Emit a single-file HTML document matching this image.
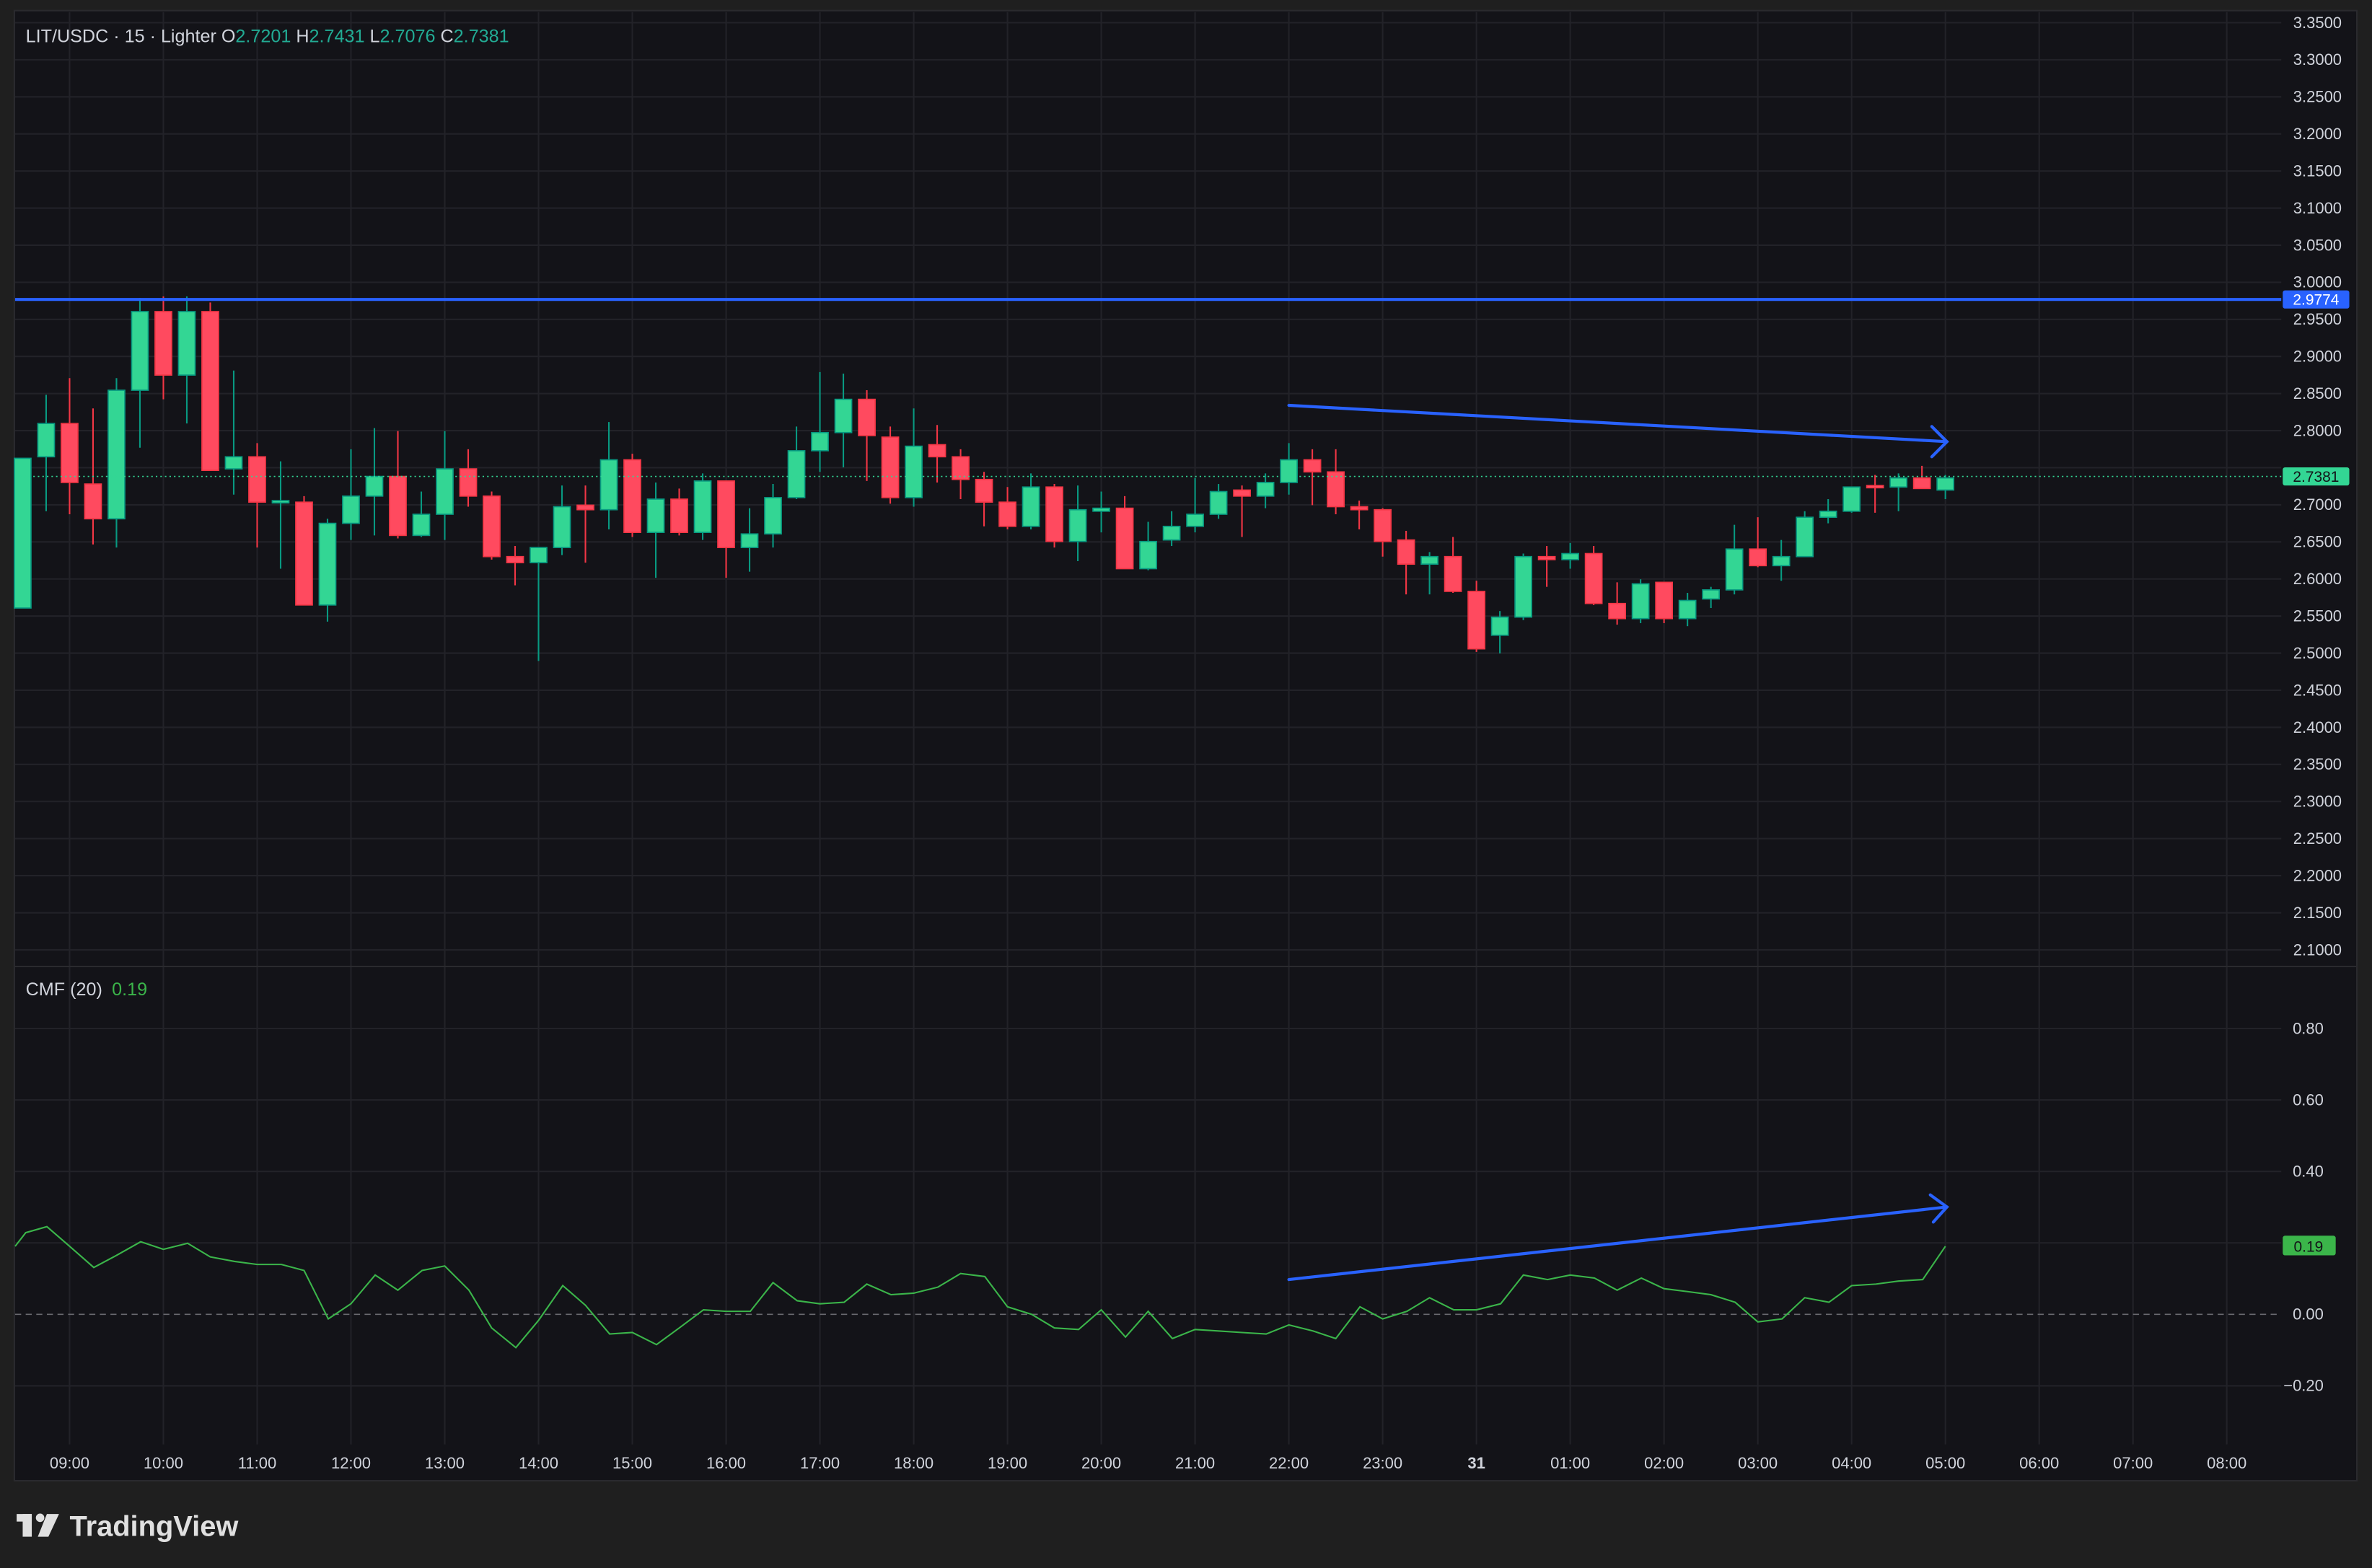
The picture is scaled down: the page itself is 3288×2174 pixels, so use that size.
<!DOCTYPE html>
<html><head><meta charset="utf-8"><style>
html,body{margin:0;padding:0;background:#1f1f1f;width:3288px;height:2174px;overflow:hidden}
svg{display:block}
text{font-family:"Liberation Sans",sans-serif}
</style></head><body>
<svg id="s" width="3288" height="2174" viewBox="0 0 1568 1036.7" preserveAspectRatio="none" xmlns="http://www.w3.org/2000/svg">
<rect x="0" y="0" width="1568" height="1037" fill="#1f1f1f"/>
<rect x="9.5" y="7" width="1548.5" height="972" fill="#131318" stroke="#2a2a2e" stroke-width="1"/>
<g id="grid"></g>
<line x1="9.5" y1="639" x2="1558" y2="639" stroke="#2a2a2e" stroke-width="1"/>
<line x1="10" y1="869" x2="1508" y2="869" stroke="#6a6a70" stroke-width="0.8" stroke-dasharray="4,3"/>
<g id="candles"></g>
<line x1="10" y1="198" x2="1508" y2="198" stroke="#2962ff" stroke-width="2"/>
<line x1="10" y1="315" x2="1508" y2="315" stroke="#33d694" stroke-width="0.8" stroke-dasharray="1,2"/>
<polyline id="cmf" fill="none" stroke="#3bb54a" stroke-width="1"/>
<g stroke="#2962ff" stroke-width="2" fill="none" stroke-linecap="round">
<line x1="852" y1="268" x2="1287" y2="292"/>
<polyline points="1277,282 1287,292 1277,302"/>
<line x1="852" y1="846" x2="1287" y2="798"/>
<polyline points="1276,790 1287,798 1278,808"/>
</g>
<g id="labels" fill="#d1d4dc" font-size="10.5"></g>
<rect x="1509" y="192" width="44" height="12" rx="1.5" fill="#2962ff"/>
<text x="1531" y="201.5" fill="#fff" font-size="10" text-anchor="middle">2.9774</text>
<rect x="1509" y="309" width="44" height="12" rx="1.5" fill="#33d694"/>
<text x="1531" y="318.5" fill="#131318" font-size="10" text-anchor="middle">2.7381</text>
<rect x="1509" y="817" width="35" height="13" rx="1.5" fill="#3bb54a"/>
<text x="1526" y="827.5" fill="#131318" font-size="10" text-anchor="middle">0.19</text>
<text x="17" y="28" font-size="12" fill="#d1d4dc">LIT/USDC · 15 · Lighter <tspan fill="#d1d4dc">O</tspan><tspan fill="#22ab94">2.7201</tspan> <tspan fill="#d1d4dc">H</tspan><tspan fill="#22ab94">2.7431</tspan> <tspan fill="#d1d4dc">L</tspan><tspan fill="#22ab94">2.7076</tspan> <tspan fill="#d1d4dc">C</tspan><tspan fill="#22ab94">2.7381</tspan></text>
<text x="17" y="658" font-size="12" fill="#d1d4dc">CMF (20) <tspan fill="#3bb54a" dx="3">0.19</tspan></text>
<g fill="#e0e0e0">
<rect x="11" y="1001" width="10" height="5"/><rect x="15" y="1001" width="6" height="15"/>
<circle cx="26.5" cy="1003.5" r="2.8"/><polygon points="31,1001 39,1001 32,1016 25,1016"/>
<text x="46" y="1015.5" font-size="19" font-weight="bold" fill="#e0e0e0">TradingView</text>
</g>
</svg>
<script>
var NS="http://www.w3.org/2000/svg";
function el(p,t,a,txt){var e=document.createElementNS(NS,t);for(var k in a)e.setAttribute(k,a[k]);if(txt!=null)e.textContent=txt;p.appendChild(e);return e;}
var grid=document.getElementById('grid'),lab=document.getElementById('labels');
// price grid
for(var i=0;i<=25;i++){var p=3.35-i*0.05;var y=15+(3.35-p)*490.4;
 el(grid,'line',{x1:10,y1:y,x2:1508,y2:y,stroke:'#222228','stroke-width':1});
 if(Math.abs(p-2.75)>0.001) el(lab,'text',{x:1548,y:y+3.5,'text-anchor':'end'},p.toFixed(4));}
// cmf grid
[0.8,0.6,0.4,0.2,0,-0.2].forEach(function(v){var y=869-236.25*v;
 if(v!==0) el(grid,'line',{x1:10,y1:y,x2:1508,y2:y,stroke:'#222228','stroke-width':1});
 if(Math.abs(v-0.2)>0.001) el(lab,'text',{x:1536,y:y+3.5,'text-anchor':'end'},v<0?'\u22120.20':v.toFixed(2));});
// time
var times=['09:00','10:00','11:00','12:00','13:00','14:00','15:00','16:00','17:00','18:00','19:00','20:00','21:00','22:00','23:00','31','01:00','02:00','03:00','04:00','05:00','06:00','07:00','08:00'];
times.forEach(function(t,i){var x=46+62*i;
 el(grid,'line',{x1:x,y1:8,x2:x,y2:955,stroke:'#222228','stroke-width':1});
 var a={x:x,y:971,'text-anchor':'middle'}; if(t==='31'){a['font-weight']='bold';}
 el(lab,'text',a,t);});
// candles: [open y, close y, high y, low y]
var C=[[402,303,303,402],[302,280,261,338],[280,319,250,340],[320,343,270,360],[343,258,250,362],[258,206,197,296],[206,248,196,264],[248,206,196,280],[206,311,200,311],[310,302,245,327],[302,332,293,362],[332,331,305,376],[332,400,328,400],[400,346,343,411],[346,328,297,357],[328,315,283,354],[315,354,285,356],[354,340,325,355],[340,310,285,357],[310,328,297,335],[328,368,325,370],[368,372,361,387],[372,362,362,437],[362,335,321,367],[334,337,321,372],[337,304,279,350],[304,352,300,355],[352,330,319,382],[330,352,323,354],[352,318,313,357],[318,362,318,382],[362,353,336,378],[353,329,320,362],[329,298,282,330],[298,286,246,312],[286,264,247,309],[264,288,258,318],[289,329,282,333],[329,295,270,335],[294,302,281,319],[302,317,297,330],[317,332,312,348],[332,348,322,350],[348,322,313,350],[322,358,320,362],[358,337,321,371],[338,336,325,352],[336,376,328,376],[376,358,345,377],[357,348,338,361],[348,340,316,352],[340,325,320,343],[324,328,321,355],[328,319,313,336],[319,304,293,327],[304,312,297,334],[312,335,297,340],[335,337,331,350],[337,358,336,368],[357,373,351,393],[373,368,365,393],[368,391,355,392],[391,429,384,431],[420,408,404,432],[408,368,366,410],[368,370,361,388],[370,366,359,376],[366,399,361,400],[399,409,385,413],[409,386,383,412],[385,409,385,412],[409,397,392,414],[396,390,388,402],[390,363,347,393],[363,374,342,375],[374,368,357,384],[368,342,338,368],[342,338,330,346],[338,322,322,339],[321,322,314,339],[322,316,313,338],[316,323,308,323],[324,316,314,330]];
var cg=document.getElementById('candles');
C.forEach(function(c,i){var x=15+15.5*i;var up=c[1]<c[0];
 var fill=up?'#33d694':'#ff4a5f',st=up?'#089981':'#f23645';
 el(cg,'line',{x1:x,y1:c[2],x2:x,y2:c[3],stroke:st,'stroke-width':1});
 var t=Math.min(c[0],c[1]),h=Math.max(Math.abs(c[0]-c[1]),1.5);
 el(cg,'rect',{x:x-5.5,y:t,width:11,height:h,fill:fill,stroke:st,'stroke-width':0.8});});
var P=[[10,824],[17,815],[31,811],[46,824],[62,838],[77,830],[93,821],[108,826],[124,822],[139,831],[155,834],[170,836],[186,836],[201,840],[217,872],[232,862],[248,843],[263,853],[279,840],[294,837],[310,853],[325,878],[341,891],[356,873],[372,850],[387,863],[403,882],[418,881],[434,889],[449,878],[465,866],[480,867],[496,867],[511,848],[527,860],[542,862],[558,861],[573,849],[589,856],[604,855],[620,851],[635,842],[651,844],[666,864],[682,869],[697,878],[713,879],[728,866],[744,884],[759,867],[775,885],[790,879],[806,880],[821,881],[837,882],[852,876],[868,880],[883,885],[899,864],[914,872],[930,867],[945,858],[961,866],[976,866],[992,862],[1007,843],[1023,846],[1038,843],[1054,845],[1069,853],[1085,845],[1100,852],[1116,854],[1131,856],[1147,861],[1162,874],[1178,872],[1193,858],[1209,861],[1224,850],[1240,849],[1255,847],[1271,846],[1286,824]];
document.getElementById('cmf').setAttribute('points',P.map(function(p){return p.join(',');}).join(' '));
</script>
</body></html>
